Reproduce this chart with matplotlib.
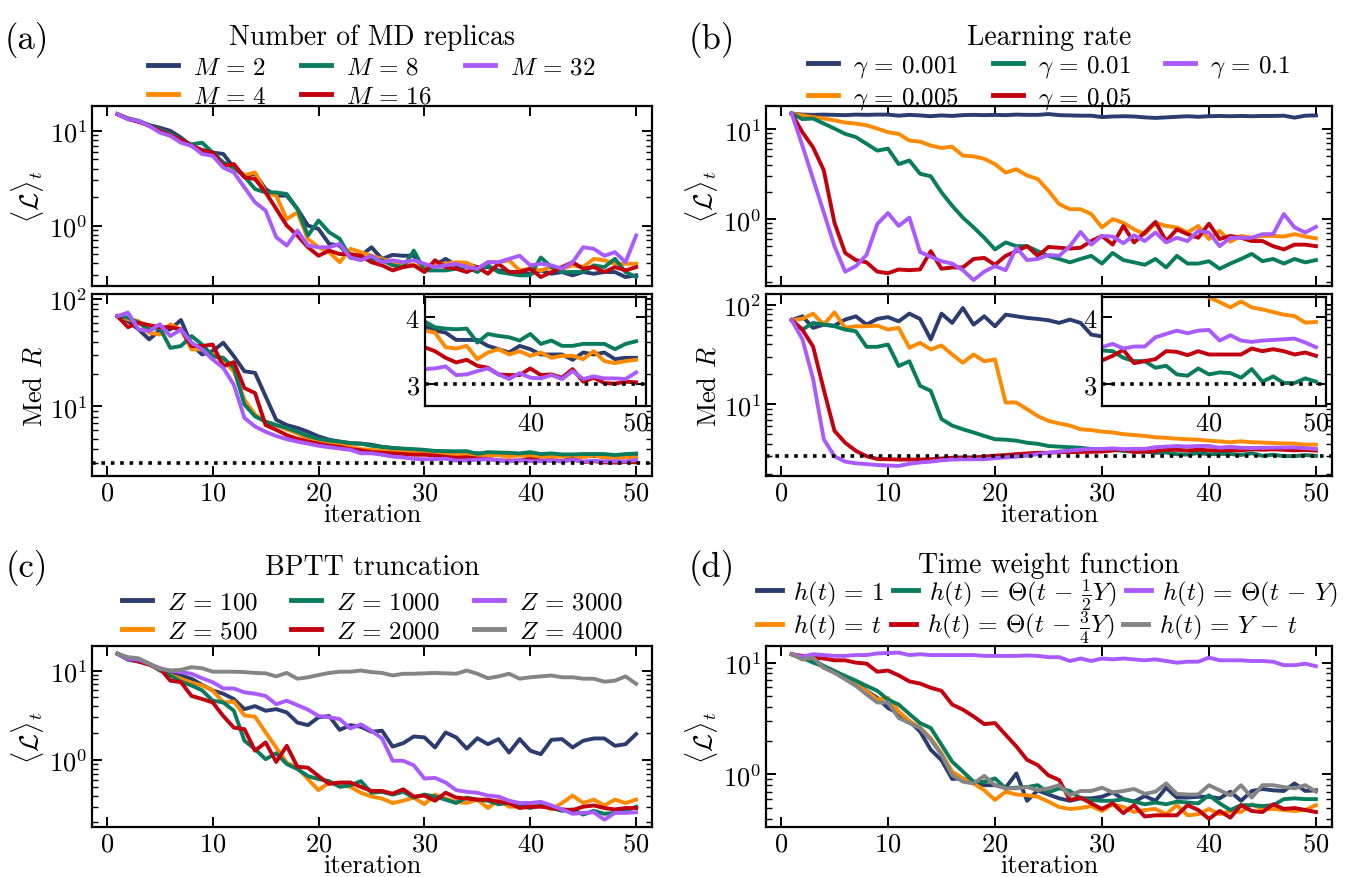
import numpy as np
import matplotlib
matplotlib.use('Agg')
import matplotlib.pyplot as plt

plt.rcParams.update({
    'font.family': 'serif', 'font.serif': ['cmr10'], 'mathtext.fontset': 'cm',
    'axes.formatter.use_mathtext': True, 'axes.unicode_minus': False,
    'font.size': 19,
    'xtick.direction': 'in', 'ytick.direction': 'in',
    'xtick.top': True, 'ytick.right': True,
    'xtick.major.size': 7, 'ytick.major.size': 7,
    'xtick.major.width': 1.4, 'ytick.major.width': 1.4,
    'ytick.minor.size': 4, 'ytick.minor.width': 1.0,
    'axes.linewidth': 1.6,
})

# ---------------- data ----------------
iters = list(range(1, 51))

# (a) number of MD replicas
replica_labels = [r'$M\,=\,2$', r'$M\,=\,4$', r'$M\,=\,8$', r'$M\,=\,16$', r'$M\,=\,32$']
loss_M2 = [15.0, 13.5, 12.5, 11.5, 10.8, 10.0, 8.5, 6.95, 6.3, 5.9,
           5.7, 4.1, 3.4, 3.5, 2.43, 2.07, 2.07, 1.5, 1.0, 0.92,
           0.64, 0.615, 0.46, 0.48, 0.59, 0.445, 0.49, 0.48, 0.48, 0.336,
           0.38, 0.445, 0.38, 0.395, 0.364, 0.364, 0.336, 0.323, 0.318, 0.31,
           0.336, 0.31, 0.323, 0.298, 0.323, 0.31, 0.323, 0.323, 0.286, 0.298]
loss_M4 = [15.0, 13.5, 12.6, 11.3, 10.2, 9.2, 8.0, 7.0, 6.2, 5.5,
           4.6, 4.0, 3.4, 3.64, 2.24, 2.07, 1.17, 1.38, 0.72, 0.59,
           0.524, 0.41, 0.568, 0.524, 0.48, 0.445, 0.41, 0.395, 0.38, 0.364,
           0.395, 0.395, 0.41, 0.405, 0.35, 0.41, 0.41, 0.43, 0.336, 0.35,
           0.336, 0.364, 0.35, 0.38, 0.364, 0.445, 0.43, 0.395, 0.395, 0.395]
loss_M8 = [15.0, 13.5, 12.8, 11.5, 10.3, 9.2, 8.0, 7.2, 7.5, 5.9,
           4.64, 4.1, 3.3, 2.43, 2.24, 2.24, 2.15, 1.5, 0.785, 1.13,
           0.85, 0.724, 0.46, 0.445, 0.445, 0.43, 0.38, 0.364, 0.544, 0.336,
           0.336, 0.336, 0.35, 0.364, 0.323, 0.38, 0.323, 0.31, 0.298, 0.298,
           0.46, 0.364, 0.323, 0.323, 0.323, 0.38, 0.364, 0.445, 0.323, 0.286]
loss_M16 = [15.0, 13.3, 12.5, 11.3, 10.0, 9.0, 8.0, 7.0, 6.2, 5.9,
            4.28, 4.46, 3.23, 3.1, 2.24, 1.5, 1.0, 0.785, 0.59, 0.48,
            0.544, 0.5, 0.5, 0.48, 0.41, 0.38, 0.336, 0.364, 0.38, 0.323,
            0.43, 0.364, 0.35, 0.323, 0.364, 0.31, 0.395, 0.323, 0.323, 0.35,
            0.286, 0.323, 0.364, 0.41, 0.35, 0.364, 0.323, 0.364, 0.336, 0.364]
loss_M32 = [15.0, 13.3, 12.7, 11.3, 9.6, 8.86, 7.5, 6.95, 5.7, 5.45,
            4.1, 3.64, 2.53, 1.76, 1.44, 0.754, 0.615, 0.886, 0.615, 0.59,
            0.59, 0.64, 0.46, 0.43, 0.48, 0.41, 0.43, 0.41, 0.43, 0.395,
            0.364, 0.38, 0.395, 0.364, 0.35, 0.41, 0.41, 0.445, 0.48, 0.38,
            0.395, 0.38, 0.35, 0.41, 0.59, 0.568, 0.48, 0.524, 0.41, 0.785]

medR_M2 = [69, 62, 52, 42, 51, 52, 63.6, 37.6, 30.4, 32.7,
           39.1, 29.3, 21.2, 20.5, 12.4, 7.5, 6.7, 6.3, 5.8, 5.25,
           4.9, 4.7, 4.54, 4.5, 4.4, 4.2, 4.1, 4.0, 3.94, 3.87,
           3.8, 3.77, 3.66, 3.66, 3.66, 3.57, 3.52, 3.47, 3.57, 3.52,
           3.44, 3.44, 3.44, 3.36, 3.47, 3.44, 3.47, 3.37, 3.39, 3.39]
medR_M4 = [69, 64.6, 62, 48.4, 46.6, 58, 52, 33.9, 33.9, 30.4,
           26.3, 21.2, 11.5, 8.4, 7.2, 6.7, 6.1, 5.6, 5.0, 4.7,
           4.55, 4.4, 4.2, 4.0, 3.94, 3.85, 3.8, 3.78, 3.77, 3.8,
           3.77, 3.55, 3.53, 3.57, 3.37, 3.47, 3.52, 3.44, 3.49, 3.42,
           3.47, 3.39, 3.42, 3.42, 3.37, 3.49, 3.34, 3.31, 3.34, 3.36]
medR_M8 = [69, 67, 60, 52, 54, 35, 36.4, 45.1, 37.6, 29.3,
           28.3, 22.8, 10.4, 8.07, 7.2, 6.7, 6.3, 5.8, 5.3, 5.0,
           4.8, 4.7, 4.55, 4.5, 4.3, 4.2, 4.1, 4.05, 4.0, 3.94,
           3.85, 3.83, 3.82, 3.83, 3.62, 3.75, 3.72, 3.70, 3.65, 3.75,
           3.6, 3.65, 3.57, 3.57, 3.6, 3.6, 3.6, 3.52, 3.6, 3.64]
medR_M16 = [69, 54.5, 60, 57, 54.5, 54.5, 52, 36.4, 36.4, 37.6,
            23.6, 25.8, 14.8, 13.3, 6.7, 6.05, 5.4, 5.0, 4.7, 4.5,
            4.3, 4.2, 4.0, 3.9, 3.75, 3.7, 3.65, 3.6, 3.55, 3.55,
            3.49, 3.39, 3.32, 3.36, 3.27, 3.24, 3.14, 3.13, 3.13, 3.23,
            3.13, 3.14, 3.09, 3.22, 3.03, 3.09, 3.01, 3.0, 3.03, 3.02]
medR_M32 = [69, 74.5, 52, 50.1, 58, 45.1, 52, 39.1, 33.9, 27.3,
            22.8, 15.9, 7.8, 6.5, 5.8, 5.3, 4.95, 4.7, 4.5, 4.3,
            4.17, 4.05, 3.94, 3.66, 3.66, 3.55, 3.41, 3.35, 3.25, 3.22,
            3.23, 3.26, 3.13, 3.14, 3.19, 3.23, 3.14, 3.07, 3.16, 3.09,
            3.08, 3.13, 3.07, 3.19, 3.07, 3.11, 3.08, 3.08, 3.07, 3.17]

# (b) learning rate
lr_labels = [r'$\gamma\,=\,0.001$', r'$\gamma\,=\,0.005$', r'$\gamma\,=\,0.01$',
             r'$\gamma\,=\,0.05$', r'$\gamma\,=\,0.1$']
loss_g0001 = [15.0, 14.6, 14.5, 14.6, 14.5, 14.4, 14.6, 14.5, 14.6, 14.6,
              14.2, 14.5, 14.3, 14.0, 14.3, 14.1, 14.4, 14.5, 14.4, 14.5,
              14.4, 14.6, 14.5, 14.5, 14.8, 14.4, 14.3, 14.2, 14.2, 13.7,
              13.9, 14.0, 13.9, 13.6, 13.4, 13.6, 13.8, 14.0, 13.8, 14.0,
              14.1, 14.0, 14.1, 14.0, 14.1, 14.1, 14.2, 13.5, 14.2, 14.3]
loss_g0005 = [15.0, 14.3, 13.7, 13.2, 12.6, 11.9, 11.6, 11.1, 10.2, 9.3,
              8.9, 7.5, 7.3, 6.6, 6.2, 6.4, 5.1, 5.0, 4.7, 4.1,
              3.3, 3.6, 3.06, 2.8, 2.07, 1.47, 1.29, 1.29, 1.14, 0.81,
              1.0, 0.91, 0.77, 0.68, 0.91, 0.84, 0.81, 0.71, 0.84, 0.6,
              0.74, 0.56, 0.65, 0.62, 0.65, 0.65, 0.64, 0.68, 0.64, 0.61]
loss_g001 = [15.0, 13.0, 13.2, 11.6, 10.2, 8.9, 8.2, 6.9, 5.8, 6.1,
             4.1, 4.5, 3.2, 3.0, 1.99, 1.41, 1.04, 0.81, 0.62, 0.46,
             0.55, 0.5, 0.5, 0.44, 0.39, 0.36, 0.33, 0.36, 0.39, 0.32,
             0.42, 0.35, 0.33, 0.31, 0.36, 0.29, 0.39, 0.32, 0.32, 0.34,
             0.28, 0.32, 0.36, 0.41, 0.34, 0.36, 0.32, 0.36, 0.33, 0.35]
loss_g005 = [15.0, 9.3, 6.3, 3.5, 0.91, 0.42, 0.35, 0.33, 0.26, 0.25,
             0.275, 0.27, 0.275, 0.44, 0.28, 0.29, 0.29, 0.36, 0.37, 0.31,
             0.39, 0.44, 0.5, 0.39, 0.49, 0.48, 0.47, 0.48, 0.57, 0.65,
             0.52, 0.84, 0.55, 0.71, 0.93, 0.57, 0.77, 0.68, 0.62, 0.89,
             0.6, 0.65, 0.62, 0.57, 0.57, 0.5, 0.46, 0.52, 0.52, 0.5]
loss_g01 = [15.0, 6.6, 2.8, 1.19, 0.5, 0.26, 0.3, 0.4, 0.88, 1.17,
            0.84, 1.04, 0.43, 0.38, 0.34, 0.32, 0.27, 0.21, 0.26, 0.30,
            0.27, 0.48, 0.35, 0.36, 0.4, 0.39, 0.5, 0.72, 0.52, 0.65,
            0.64, 0.54, 0.66, 0.57, 0.71, 0.55, 0.62, 0.57, 0.74, 0.71,
            0.5, 0.62, 0.62, 0.62, 0.68, 0.68, 1.14, 0.81, 0.71, 0.82]

medR_g0001 = [70, 76.4, 58.5, 63, 61.6, 70.8, 76.4, 63, 71.9, 75,
              68, 81.3, 71.9, 44.7, 81.3, 65.6, 92.6, 63, 76.4, 60.7,
              79.4, 76.4, 73.6, 71.9, 69.7, 65.6, 70.8, 65.6, 50, 48,
              46, 47, 45, 44, 46, 44, 43, 45, 44, 42,
              43, 42, 41, 43, 42, 41, 40, 42, 41, 40]
medR_g0005 = [70, 72, 81.3, 63, 83.8, 58.5, 60.7, 60.7, 61.6, 56.2,
              58.5, 36.9, 41.4, 35.5, 38.9, 31.6, 26.1, 31.6, 27, 28.2,
              10.4, 10.4, 8.9, 7.6, 6.8, 6.4, 6.1, 5.6, 5.5, 5.3,
              5.2, 5.0, 4.9, 4.8, 4.65, 4.6, 4.5, 4.45, 4.4, 4.3,
              4.23, 4.15, 4.24, 4.15, 4.12, 4.08, 4.04, 4.02, 3.92, 3.93]
medR_g001 = [70, 56.2, 65.6, 63, 60.7, 56.2, 54, 37.7, 37.7, 39.8,
             24.2, 27, 15.3, 13.6, 7.1, 6.1, 5.6, 5.2, 4.8, 4.45,
             4.4, 4.3, 4.1, 4.0, 3.8, 3.75, 3.7, 3.65, 3.55, 3.5,
             3.49, 3.39, 3.34, 3.34, 3.24, 3.27, 3.14, 3.12, 3.23, 3.14,
             3.17, 3.16, 3.09, 3.22, 3.03, 3.11, 3.01, 3.01, 3.08, 3.03]
medR_g005 = [70, 56, 38, 14, 5.4, 4.1, 3.4, 3.0, 2.82, 2.8,
             2.78, 2.78, 2.78, 2.8, 2.85, 2.9, 2.92, 2.92, 2.97, 3.04,
             3.08, 3.15, 3.2, 3.25, 3.25, 3.3, 3.3, 3.32, 3.32, 3.35,
             3.42, 3.51, 3.31, 3.34, 3.37, 3.49, 3.48, 3.43, 3.49, 3.44,
             3.44, 3.44, 3.44, 3.53, 3.49, 3.52, 3.49, 3.44, 3.47, 3.42]
medR_g01 = [70, 45, 18, 4.45, 3.0, 2.65, 2.55, 2.5, 2.45, 2.42,
            2.4, 2.52, 2.6, 2.65, 2.73, 2.78, 2.8, 2.8, 2.8, 2.87,
            2.92, 2.97, 3.04, 3.15, 3.25, 3.35, 3.42, 3.5, 3.55, 3.55,
            3.6, 3.53, 3.56, 3.56, 3.7, 3.75, 3.8, 3.76, 3.8, 3.81,
            3.65, 3.73, 3.65, 3.63, 3.65, 3.66, 3.67, 3.68, 3.62, 3.55]

# (c) BPTT truncation
bptt_labels = [r'$Z\,=\,100$', r'$Z\,=\,500$', r'$Z\,=\,1000$', r'$Z\,=\,2000$',
               r'$Z\,=\,3000$', r'$Z\,=\,4000$']
loss_Z100 = [15.4, 13.7, 13.2, 11.9, 10.0, 9.2, 8.8, 8.1, 6.9, 6.0,
             5.5, 4.8, 3.7, 4.0, 3.55, 3.7, 3.4, 2.62, 2.45, 3.0,
             3.1, 2.17, 2.45, 2.35, 2.07, 2.12, 1.41, 1.54, 1.83, 1.79,
             1.38, 2.03, 1.79, 1.34, 1.75, 1.5, 1.71, 1.21, 1.71, 1.27,
             1.16, 1.68, 1.71, 1.38, 1.64, 1.74, 1.74, 1.44, 1.5, 1.95]
loss_Z500 = [15.4, 13.5, 13.2, 11.9, 10.2, 8.9, 8.1, 7.3, 6.8, 6.0,
             4.4, 4.5, 3.15, 3.05, 2.03, 1.38, 0.93, 0.82, 0.61, 0.46,
             0.56, 0.54, 0.5, 0.43, 0.39, 0.37, 0.33, 0.35, 0.38, 0.32,
             0.41, 0.37, 0.34, 0.33, 0.36, 0.29, 0.36, 0.30, 0.30, 0.33,
             0.32, 0.28, 0.33, 0.4, 0.33, 0.36, 0.31, 0.36, 0.33, 0.36]
loss_Z1000 = [15.4, 13.2, 12.6, 11.9, 10.2, 8.8, 7.5, 6.8, 6.0, 4.6,
              4.4, 3.55, 1.64, 1.32, 1.02, 1.19, 0.9, 0.79, 0.66, 0.61,
              0.58, 0.5, 0.52, 0.58, 0.43, 0.44, 0.41, 0.44, 0.38, 0.41,
              0.39, 0.36, 0.33, 0.38, 0.36, 0.35, 0.32, 0.33, 0.31, 0.29,
              0.31, 0.29, 0.27, 0.28, 0.245, 0.27, 0.25, 0.256, 0.27, 0.30]
loss_Z2000 = [15.4, 13.5, 12.6, 11.6, 10.6, 7.7, 7.4, 5.2, 4.8, 4.4,
              3.1, 2.3, 2.21, 1.27, 1.57, 0.95, 1.44, 0.84, 0.82, 0.66,
              0.54, 0.56, 0.56, 0.5, 0.45, 0.45, 0.42, 0.47, 0.39, 0.4,
              0.35, 0.43, 0.38, 0.37, 0.36, 0.36, 0.34, 0.33, 0.29, 0.30,
              0.30, 0.29, 0.28, 0.275, 0.30, 0.31, 0.29, 0.28, 0.29, 0.29]
loss_Z3000 = [15.4, 13.5, 13.2, 11.9, 10.6, 10.0, 9.6, 9.2, 8.2, 7.4,
              6.3, 6.3, 5.7, 5.5, 5.2, 4.2, 4.6, 4.1, 3.65, 3.1,
              3.0, 2.86, 2.25, 2.5, 2.12, 1.74, 0.98, 0.98, 0.87, 0.62,
              0.63, 0.56, 0.46, 0.44, 0.43, 0.4, 0.39, 0.35, 0.33, 0.33,
              0.34, 0.31, 0.28, 0.25, 0.256, 0.26, 0.215, 0.256, 0.256, 0.26]
loss_Z4000 = [15.4, 14.1, 13.7, 11.9, 10.4, 10.0, 10.2, 10.9, 10.6, 9.7,
              9.7, 9.7, 9.6, 9.4, 9.3, 8.6, 9.4, 8.1, 8.4, 8.9,
              9.4, 9.7, 9.7, 10.0, 9.6, 9.4, 8.8, 9.2, 9.2, 9.3,
              9.4, 9.3, 9.2, 10.0, 9.2, 8.2, 8.6, 9.2, 8.1, 8.4,
              8.6, 8.8, 8.4, 8.4, 8.1, 8.1, 7.5, 7.7, 8.6, 7.1]

# (d) time weight function
tw_labels = [r'$h(t)\,=\,1$', r'$h(t)\,=\,t$', r'$h(t)\,=\,\Theta(t\,-\,\frac{1}{2}Y)$',
             r'$h(t)\,=\,\Theta(t\,-\,\frac{3}{4}Y)$', r'$h(t)\,=\,\Theta(t\,-\,Y)$',
             r'$h(t)\,=\,Y\,-\,t$']
loss_h1 = [11.9, 10.9, 10.7, 9.3, 8.4, 7.3, 6.6, 5.6, 4.84, 3.93,
           3.5, 3.0, 2.42, 1.66, 1.34, 0.91, 0.92, 0.86, 0.80, 0.80,
           0.76, 1.02, 0.58, 0.72, 0.66, 0.61, 0.58, 0.61, 0.61, 0.63,
           0.69, 0.60, 0.57, 0.64, 0.58, 0.76, 0.62, 0.62, 0.63, 0.63,
           0.61, 0.70, 0.58, 0.71, 0.74, 0.72, 0.71, 0.83, 0.71, 0.72]
loss_ht = [11.9, 10.7, 10.5, 9.0, 8.4, 7.2, 6.4, 5.56, 4.67, 4.84,
           3.67, 3.0, 2.63, 2.11, 1.55, 1.06, 0.92, 0.83, 0.72, 0.59,
           0.70, 0.66, 0.65, 0.63, 0.57, 0.51, 0.49, 0.50, 0.52, 0.47,
           0.54, 0.51, 0.46, 0.48, 0.49, 0.44, 0.53, 0.43, 0.44, 0.49,
           0.44, 0.47, 0.46, 0.54, 0.49, 0.49, 0.48, 0.47, 0.48, 0.53]
loss_hhalf = [11.9, 11.1, 10.0, 9.3, 8.4, 7.6, 6.9, 6.2, 5.6, 4.67,
              4.22, 3.47, 2.88, 2.6, 1.84, 1.3, 1.06, 0.86, 0.86, 0.92,
              0.75, 0.76, 0.77, 0.80, 0.69, 0.75, 0.71, 0.61, 0.59, 0.58,
              0.58, 0.60, 0.57, 0.54, 0.56, 0.54, 0.57, 0.56, 0.55, 0.65,
              0.55, 0.48, 0.53, 0.53, 0.52, 0.53, 0.60, 0.61, 0.60, 0.60]
loss_hquarter = [11.9, 11.5, 11.1, 10.9, 10.5, 10.5, 10.0, 9.8, 8.3, 8.5,
                 7.7, 6.8, 6.5, 5.96, 5.6, 4.22, 3.8, 3.3, 2.82, 2.88,
                 2.26, 1.78, 1.35, 1.21, 0.98, 0.89, 0.59, 0.62, 0.55, 0.49,
                 0.55, 0.45, 0.53, 0.42, 0.43, 0.43, 0.43, 0.53, 0.48, 0.40,
                 0.47, 0.41, 0.53, 0.47, 0.46, 0.54, 0.49, 0.50, 0.48, 0.46]
loss_hY = [11.9, 11.3, 11.9, 11.7, 11.5, 11.5, 11.7, 11.7, 12.1, 12.2,
           12.3, 11.7, 11.9, 11.7, 11.7, 11.7, 11.7, 11.7, 11.5, 11.5,
           11.5, 11.5, 11.6, 11.5, 11.2, 11.2, 10.35, 10.9, 10.35, 10.9,
           10.7, 10.9, 10.7, 10.5, 10.7, 10.35, 10.0, 10.2, 10.2, 11.1,
           10.5, 10.5, 10.5, 10.35, 10.35, 10.2, 9.5, 9.5, 9.8, 9.3]
loss_hYt = [11.9, 10.7, 11.1, 9.0, 8.1, 7.1, 6.2, 5.2, 4.4, 4.4,
            3.2, 2.88, 2.6, 2.04, 1.5, 0.99, 0.86, 0.83, 0.97, 0.80,
            0.75, 0.75, 0.77, 0.72, 0.75, 0.80, 0.65, 0.71, 0.71, 0.76,
            0.69, 0.71, 0.74, 0.67, 0.70, 0.83, 0.67, 0.66, 0.66, 0.80,
            0.72, 0.65, 0.80, 0.62, 0.80, 0.80, 0.77, 0.75, 0.80, 0.70]

colors = ['#2B3C6E', '#FF8A00', '#0A7C5E', '#C2000E', '#A95BFF', '#858585']

# ---------------- figure ----------------
W, H = 1360, 878
fig = plt.figure(figsize=(W / 100, H / 100), dpi=100)


def box(l, t, r, b):
    return [l / W, 1 - b / H, (r - l) / W, (b - t) / H]


LW = 2.8
XLIM = (-1.4, 51.5)


def base(ax, ylim, xlabels=True):
    ax.set_yscale('log')
    ax.set_xlim(*XLIM)
    ax.set_ylim(*ylim)
    ax.set_xticks([0, 10, 20, 30, 40, 50])
    if not xlabels:
        ax.tick_params(axis='x', labelbottom=False)
    else:
        ax.set_xlabel('iteration', labelpad=-2)


def panel_title(ax, title, title_y):
    cx = (ax.get_position().x0 + ax.get_position().x1) / 2
    fig.text(cx, 1 - title_y / H, title, fontsize=20, ha='center', va='center')
    return cx


def fat(leg):
    for h in leg.legend_handles:
        h.set_linewidth(3.5)


def legend(ax, labels, title, title_y, leg_y, **kw):
    cx = panel_title(ax, title, title_y)
    opts = dict(ncol=3, loc='center', bbox_to_anchor=(cx, 1 - leg_y / H),
                bbox_transform=fig.transFigure, frameon=False,
                handlelength=1.2, handletextpad=0.6, columnspacing=1.35, labelspacing=0.25,
                fontsize=18, borderpad=0.0)
    opts.update(kw)
    fat(ax.legend(ax.get_lines()[:len(labels)], labels, **opts))


def dotted(ax):
    ax.axhline(3, color='black', lw=2.6, linestyle=(0, (1, 1.6)), zorder=3)


def inset(ax, series):
    fx0, fw = 0.594, 0.396
    ins = ax.inset_axes([fx0, 0.387, fw, 0.594])
    for s, c in zip(series, colors):
        ins.plot(iters, s, color=c, lw=LW)
    dotted(ins)
    span = XLIM[1] - XLIM[0]
    ins.set_xlim(XLIM[0] + fx0 * span, XLIM[0] + (fx0 + fw) * span)
    ins.set_ylim(2.67, 4.3)
    ins.set_xticks([40, 50])
    ins.set_yticks([3, 4])
    ins.tick_params(which='minor', left=False, right=False, bottom=False, top=False)
    return ins


ylab_loss = r'$\langle\mathcal{L}\rangle_t$'
ylab_med = r'Med $R$'

# (a)
axA1 = fig.add_axes(box(92, 107, 652, 287))
for s, c in zip([loss_M2, loss_M4, loss_M8, loss_M16, loss_M32], colors):
    axA1.plot(iters, s, color=c, lw=LW)
base(axA1, (0.23, 18.3), xlabels=False)
axA1.set_ylabel(ylab_loss, labelpad=2)
legend(axA1, replica_labels, 'Number of MD replicas', 38, 83)

axA2 = fig.add_axes(box(92, 295, 652, 477))
medA = [medR_M2, medR_M4, medR_M8, medR_M16, medR_M32]
for s, c in zip(medA, colors):
    axA2.plot(iters, s, color=c, lw=LW)
dotted(axA2)
base(axA2, (2.25, 111))
axA2.set_ylabel(ylab_med, labelpad=2)
inset(axA2, medA)

# (b)
axB1 = fig.add_axes(box(766, 107, 1332, 287))
for s, c in zip([loss_g0001, loss_g0005, loss_g001, loss_g005, loss_g01], colors):
    axB1.plot(iters, s, color=c, lw=LW)
base(axB1, (0.18, 18.2), xlabels=False)
axB1.set_ylabel(ylab_loss, labelpad=2)
legend(axB1, lr_labels, 'Learning rate', 38, 83)

axB2 = fig.add_axes(box(766, 295, 1332, 477))
medB = [medR_g0001, medR_g0005, medR_g001, medR_g005, medR_g01]
for s, c in zip(medB, colors):
    axB2.plot(iters, s, color=c, lw=LW)
dotted(axB2)
base(axB2, (1.9, 128))
axB2.set_ylabel(ylab_med, labelpad=2)
inset(axB2, medB)

# (c)
axC = fig.add_axes(box(92, 647, 652, 828))
for s, c in zip([loss_Z100, loss_Z500, loss_Z1000, loss_Z2000, loss_Z3000, loss_Z4000], colors):
    axC.plot(iters, s, color=c, lw=LW)
base(axC, (0.178, 18.8))
axC.set_ylabel(ylab_loss, labelpad=2)
legend(axC, bptt_labels, 'BPTT truncation', 568, 618)

# (d)
axD = fig.add_axes(box(766, 647, 1332, 828))
for s, c in zip([loss_h1, loss_ht, loss_hhalf, loss_hquarter, loss_hY, loss_hYt], colors):
    axD.plot(iters, s, color=c, lw=LW)
base(axD, (0.338, 14.1))
axD.set_ylabel(ylab_loss, labelpad=2)
panel_title(axD, 'Time weight function', 566)
linesD = axD.get_lines()
for row_idx, row_y in [([0, 2, 4], 595), ([1, 3, 5], 628)]:
    fat(fig.legend([linesD[i] for i in row_idx], [tw_labels[i] for i in row_idx],
                   ncol=3, loc='center left', bbox_to_anchor=(757 / W, 1 - row_y / H),
                   frameon=False, handlelength=1.0, handletextpad=0.45,
                   columnspacing=0.35, fontsize=18, borderpad=0.0, borderaxespad=0.0))

for txt, x, y in [('(a)', 27, 40), ('(b)', 712, 40), ('(c)', 27, 568), ('(d)', 712, 568)]:
    fig.text(x / W, 1 - y / H, txt, fontsize=25, ha='center', va='center')

fig.savefig('out.png', dpi=100)
